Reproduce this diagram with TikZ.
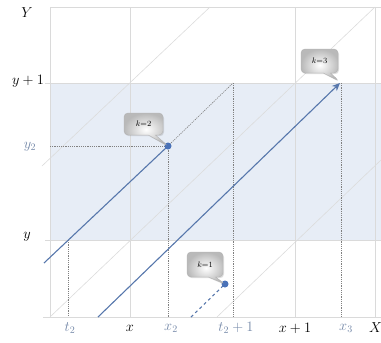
\documentclass[tikz,border=0pt]{standalone}
\usetikzlibrary{shapes.callouts,arrows.meta,shadows}
\definecolor{bandblue}{HTML}{E7EDF6}
\definecolor{gridgray}{HTML}{DADADA}
\definecolor{faint}{HTML}{DCDCDC}
\definecolor{lineblue}{HTML}{5777AC}
\definecolor{dotblue}{HTML}{4A72B8}
\definecolor{lblblue}{HTML}{7488A8}
\definecolor{dashgray}{HTML}{808080}
\tikzset{
  gridline/.style={draw=gridgray, line width=0.9pt},
  faintline/.style={draw=faint, line width=0.6pt},
  blueline/.style={draw=lineblue, line width=1.1pt},
  guide/.style={draw=dashgray, line width=0.6pt, dash pattern=on 1.2pt off 1pt},
  dot/.style={circle, fill=dotblue, inner sep=0pt, minimum size=7pt},
  lbl/.style={font=\fontsize{14}{16}\selectfont, inner sep=0pt},
  lblb/.style={lbl, text=lblblue},
  callbox/.style={rectangle callout, rounded corners=4pt, draw=gray!60, line width=0.4pt,
    inner color=white, outer color=gray!55,
    drop shadow={opacity=0.25, shadow xshift=1pt, shadow yshift=-1.2pt},
    font=\fontsize{8}{9}\selectfont, inner sep=1pt}
}
\begin{document}
\begin{tikzpicture}[x=1pt,y=-1pt]
\useasboundingbox (0,0) rectangle (381,343);
% band
\fill[bandblue] (50,83) rectangle (381,240);
% grid
\draw[gridline] (50,7) -- (381,7);
\draw[gridline] (45,83) -- (381,83);
\draw[gridline] (45,240) -- (381,240);
\draw[gridline] (43,317) -- (381,317);
\foreach \gx in {50,130,295,375} \draw[gridline] (\gx,7) -- (\gx,317);
% faint diagonals
\draw[faintline] (50,317) -- (375,7);
\draw[faintline] (42,166) -- (210,7);
\draw[faintline] (217,317) -- (381,160);
% key points
\coordinate (P2) at (168,146);
\coordinate (P1) at (225,284);
\coordinate (A0) at (44,263);
\coordinate (B0) at (98,317);
\coordinate (B1) at (340,83);
\coordinate (C0) at (191,317);
\coordinate (T1) at (233,83);
\coordinate (T1b) at (233,317);
\coordinate (T2a) at (68,240);
\coordinate (T2b) at (68,317);
\coordinate (X2b) at (168,317);
\coordinate (Y2a) at (50,146);
\coordinate (X3a) at (341,83);
\coordinate (X3b) at (341,317);
% guides
\draw[guide] (Y2a) -- (P2);
\draw[guide] (P2) -- (X2b);
\draw[guide] (P2) -- (T1);
\draw[guide] (T1) -- (T1b);
\draw[guide] (T2a) -- (T2b);
\draw[guide] (X3a) -- (X3b);
% blue lines
\draw[blueline] (A0) -- (P2);
\draw[blueline, -{Stealth[length=8pt,width=7pt]}] (B0) -- (B1);
\draw[blueline, dash pattern=on 3pt off 3pt] (C0) -- (P1);
\node[dot] (d2) at (P2) {};
\node[dot] (d1) at (P1) {};
% callouts
\node[callbox, minimum width=39pt, minimum height=22pt, callout absolute pointer={(P2)}] (k2) at (143.5,124) {$k$=2};
\node[callbox, minimum width=37pt, minimum height=24pt, callout absolute pointer={(339,81)}] (k3) at (319.5,61) {$k$=3};
\node[callbox, minimum width=36pt, minimum height=25pt, callout absolute pointer={(P1)}] (k1) at (205,264.5) {$k$=1};
% labels
\node[lbl] (lY) at (27,13) {$Y$};
\node[lbl] (lyp) at (28,81) {$y+1$};
\node[lblb] (ly2) at (30,147) {$y_2$};
\node[lbl] (ly) at (27,237) {$y$};
\node[lblb] (lt2) at (70,328) {$t_2$};
\node[lbl] (lx) at (130,328) {$x$};
\node[lblb] (lx2) at (171,328) {$x_2$};
\node[lblb] (lt2p) at (236,328) {$t_2+1$};
\node[lbl] (lxp) at (295,328) {$x+1$};
\node[lblb] (lx3) at (346,328) {$x_3$};
\node[lbl] (lX) at (375.5,328) {$X$};
\end{tikzpicture}
\end{document}
